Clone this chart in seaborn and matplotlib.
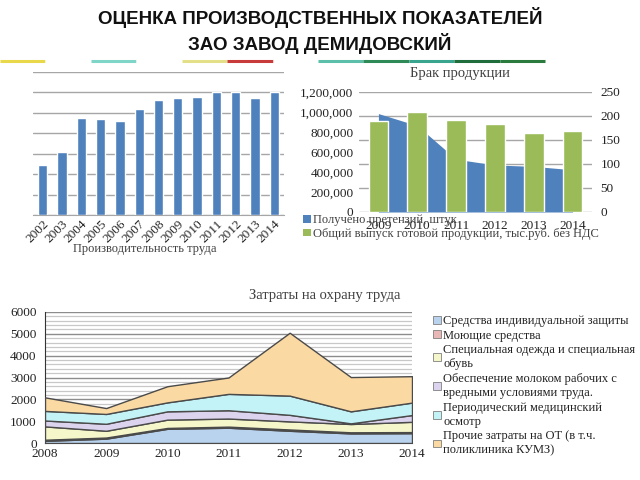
import numpy as np
import pandas as pd
import matplotlib
matplotlib.use("Agg")
import matplotlib.pyplot as plt
import seaborn as sns
from matplotlib.patches import Patch
from matplotlib.lines import Line2D
from matplotlib.ticker import MultipleLocator, FuncFormatter

# ---------------- data ----------------
prod_years = ['2002', '2003', '2004', '2005', '2006', '2007', '2008',
              '2009', '2010', '2011', '2012', '2013', '2014']
prod_values = [2.44, 3.09, 4.74, 4.72, 4.61, 5.21, 5.64, 5.73, 5.78, 6.01, 6.04, 5.73, 6.00]

defect_years = ['2009', '2010', '2011', '2012', '2013', '2014']
claims = [205, 180, 110, 98, 95, 88]
output_value = [908000, 1000000, 924000, 884000, 789000, 808000]

cost_years = [2008, 2009, 2010, 2011, 2012, 2013, 2014]
ppe = [100, 200, 650, 700, 560, 440, 450]
detergents = [50, 50, 40, 50, 60, 50, 50]
workwear = [610, 310, 380, 370, 370, 380, 470]
milk = [270, 320, 380, 380, 300, 30, 310]
medical = [440, 450, 410, 750, 880, 550, 570]
other = [620, 270, 740, 750, 2880, 1570, 1210]
cost_labels = ['Средства индивидуальной защиты',
               'Моющие средства',
               'Специальная одежда и специальная\nобувь',
               'Обеспечение молоком рабочих с\nвредными условиями труда.',
               'Периодический медицинский\nосмотр',
               'Прочие затраты на ОТ (в т.ч.\nполиклиника КУМЗ)']
cost_colors = ['#b9d2ee', '#e8b7b6', '#f6f6cb', '#dcd3ee', '#c3f3f7', '#fbd9a3']

# ---------------- style ----------------
sns.set_style("white")
SERIF = ['Liberation Serif', 'DejaVu Serif']
SANS = ['Liberation Sans', 'DejaVu Sans']
plt.rcParams['font.family'] = SERIF

W, H = 640, 480
fig = plt.figure(figsize=(6.4, 4.8), dpi=100)

def rect(x0, y0, x1, y1):
    return [x0 / W, 1 - y1 / H, (x1 - x0) / W, (y1 - y0) / H]

# title
fig.text(0.5, 1 - 18 / H, 'ОЦЕНКА ПРОИЗВОДСТВЕННЫХ ПОКАЗАТЕЛЕЙ', ha='center', va='center',
         fontsize=13.5, fontweight='bold', family=SANS, color='#111111')
fig.text(0.5, 1 - 43 / H, 'ЗАО ЗАВОД ДЕМИДОВСКИЙ', ha='center', va='center',
         fontsize=13.5, fontweight='bold', family=SANS, color='#111111')

# decorative stripe
stripe_cols = ['#e8d84a', '#ffffff', '#7fd6c8', '#ffffff', '#e4e08a', '#c93a3a', '#ffffff',
               '#5bbfa9', '#2e8b57', '#3aa58f', '#1f6d3a', '#2b7a3e']
segs = np.linspace(0, 545, len(stripe_cols) + 1)
for i, c in enumerate(stripe_cols):
    fig.add_artist(Line2D([segs[i] / W, segs[i + 1] / W], [1 - 61 / H, 1 - 61 / H],
                          color=c, lw=2.2, solid_capstyle='butt'))

# ---------------- chart 1: productivity ----------------
ax1 = fig.add_axes(rect(33, 72, 284, 215))
df1 = pd.DataFrame({'year': prod_years, 'value': prod_values})
sns.barplot(data=df1, x='year', y='value', color='#4f81bd', width=0.48, saturation=1,
            ax=ax1, zorder=3)
ax1.set_ylim(0, 7)
ax1.yaxis.set_major_locator(MultipleLocator(1))
ax1.grid(axis='y', color='#a6a6a6', lw=1, zorder=0)
ax1.set_yticklabels([])
ax1.tick_params(axis='y', length=0)
ax1.tick_params(axis='x', length=0, labelsize=9.5, pad=2)
for lab in ax1.get_xticklabels():
    lab.set_rotation(45)
    lab.set_ha('right')
    lab.set_rotation_mode('anchor')
for s in ['top', 'right', 'left']:
    ax1.spines[s].set_visible(False)
ax1.spines['bottom'].set_color('#a6a6a6')
ax1.set_xlabel('')
ax1.set_ylabel('')
fig.text(145 / W, 1 - 249 / H, 'Производительность труда', ha='center', va='center',
         fontsize=9, color='#404040')

# ---------------- chart 2: defects ----------------
ax2 = fig.add_axes(rect(359, 92, 592, 212))
x2 = np.arange(len(defect_years))
ax2.fill_between(x2, claims, color='#4f81bd', lw=0, zorder=2)
ax2.set_ylim(0, 250)
ax2.yaxis.set_major_locator(MultipleLocator(50))
ax2.grid(axis='y', color='#a6a6a6', lw=1, zorder=0)
ax2.set_axisbelow(True)
ax2b = ax2.twinx()
df2 = pd.DataFrame({'year': defect_years, 'value': output_value})
sns.barplot(data=df2, x='year', y='value', color='#9bbb59', width=0.51, saturation=1,
            ax=ax2b, zorder=3)
ax2.yaxis.tick_right()
ax2.yaxis.set_label_position('right')
ax2b.yaxis.tick_left()
ax2b.yaxis.set_label_position('left')
ax2b.set_ylim(0, 1200000)
ax2b.yaxis.set_major_locator(MultipleLocator(200000))
ax2b.yaxis.set_major_formatter(FuncFormatter(lambda v, p: f'{int(v):,}'))
ax2.set_xlim(-0.5, len(defect_years) - 0.5)
ax2b.set_xlim(-0.5, len(defect_years) - 0.5)
ax2b.set_xlabel('')
ax2b.set_ylabel('')
for a in (ax2, ax2b):
    for s in a.spines.values():
        s.set_visible(False)
    a.tick_params(length=0, labelsize=9.5, colors='#222222')
ax2.tick_params(axis='y', pad=6)
ax2b.tick_params(axis='y', pad=4)
ax2.set_xticks(x2)
ax2.set_xticklabels(defect_years, fontsize=9.5)
ax2.tick_params(axis='x', pad=6, labelbottom=True)
fig.text(460 / W, 1 - 73 / H, 'Брак продукции', ha='center', va='center', fontsize=10.5,
         color='#404040')
fig.legend(handles=[Patch(facecolor='#4f81bd', edgecolor='none'),
                    Patch(facecolor='#9bbb59', edgecolor='none')],
           labels=['Получено претензий, штук',
                   'Общий выпуск готовой продукции, тыс.руб. без НДС'],
           loc='upper left', bbox_to_anchor=(303 / W, 1 - 214 / H), frameon=False,
           fontsize=9, handlelength=0.6, handleheight=0.6, handletextpad=0.2,
           labelspacing=0.15, borderaxespad=0, borderpad=0, labelcolor='#404040')

# ---------------- chart 3: labour protection costs ----------------
ax3 = fig.add_axes(rect(45, 312, 412, 443))
layers = [ppe, detergents, workwear, milk, medical, other]
ax3.stackplot(cost_years, *layers, colors=cost_colors, edgecolor='#4a4a4a', lw=1,
              labels=cost_labels, zorder=3)
ax3.set_xlim(2008, 2014)
ax3.set_ylim(0, 6000)
ax3.yaxis.set_major_locator(MultipleLocator(1000))
ax3.yaxis.set_minor_locator(MultipleLocator(200))
ax3.grid(axis='y', which='major', color='#8c8c8c', lw=1, zorder=0)
ax3.grid(axis='y', which='minor', color='#c8c8c8', lw=0.9, zorder=0)
ax3.set_xticks(cost_years)
ax3.tick_params(length=0, labelsize=9.5, colors='#222222')
ax3.tick_params(axis='y', pad=6)
for s in ['top', 'right']:
    ax3.spines[s].set_visible(False)
ax3.spines['left'].set_color('#333333')
ax3.spines['bottom'].set_color('#333333')
fig.text(325 / W, 1 - 296 / H, 'Затраты на охрану труда', ha='center', va='center',
         fontsize=10.5, color='#404040')
handles3 = [Patch(facecolor=c, edgecolor='#7f7f7f', lw=0.6) for c in cost_colors]
leg3 = fig.legend(handles=handles3, labels=cost_labels, loc='upper left',
                  bbox_to_anchor=(433 / W, 1 - 315 / H), frameon=False, fontsize=9,
                  handlelength=0.6, handleheight=0.6, handletextpad=0.2, labelspacing=0.2,
                  borderaxespad=0, borderpad=0, labelcolor='#222222')
for t in leg3.get_texts():
    t.set_linespacing(1.25)

fig.savefig('out.png', dpi=100)
